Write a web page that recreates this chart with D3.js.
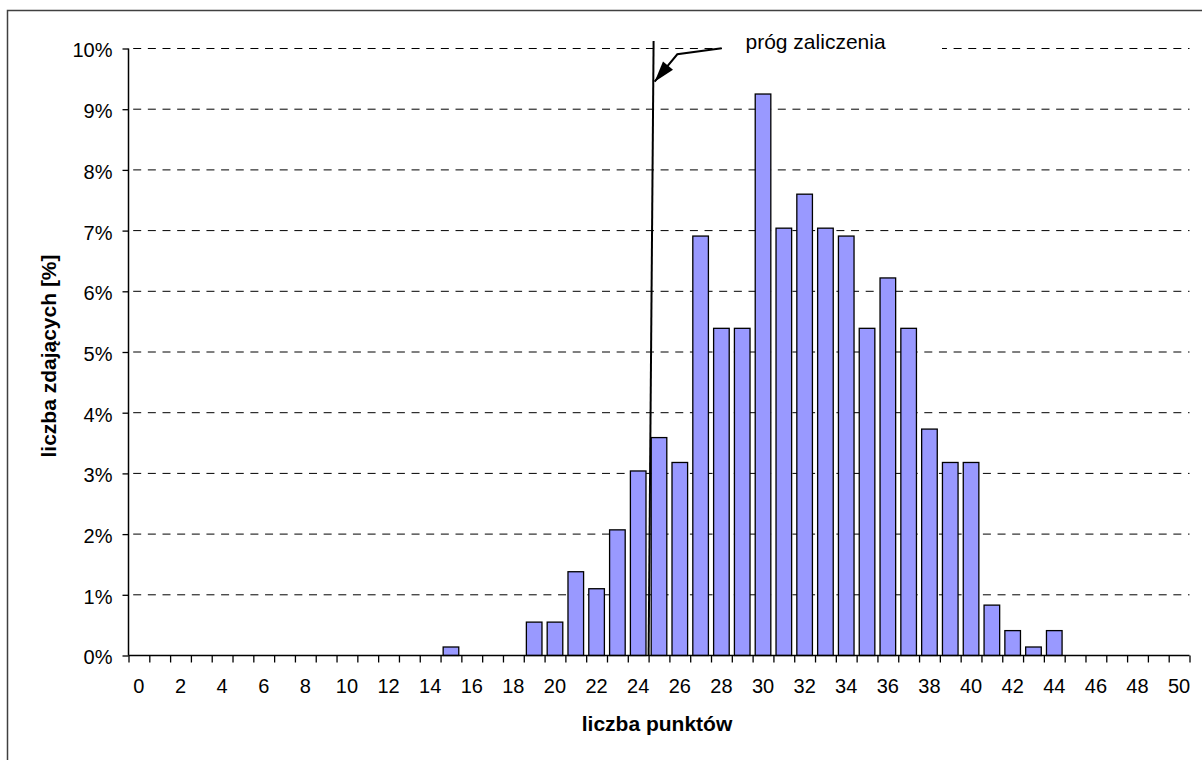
<!DOCTYPE html>
<html>
<head>
<meta charset="utf-8">
<script src="https://cdn.jsdelivr.net/npm/d3@7"></script>
<style>
  html, body { margin: 0; padding: 0; background: #fff; }
  svg { display: block; }
  text { font-family: "Liberation Sans", Arial, sans-serif; fill: #000; }
</style>
</head>
<body>
<svg id="chart" width="1202" height="760"></svg>
<script>
// ---- data ----
const categories = [0,1,2,3,4,5,6,7,8,9,10,11,12,13,14,15,16,17,18,19,20,21,22,23,24,25,
  26,27,28,29,30,31,32,33,34,35,36,37,38,39,40,41,42,43,44,45,46,47,48,49,50];
const percentValues = [0,0,0,0,0,0,0,0,0,0,0,0,0,0,0,0.14,0,0,0,0.55,0.55,1.38,1.10,2.07,3.04,3.59,
  3.18,6.91,5.39,5.39,9.25,7.04,7.60,7.04,6.91,5.39,6.22,5.39,3.73,3.18,3.18,0.83,0.41,0.14,0.41,0,0,0,0,0,0];
const yTickValues = [0,1,2,3,4,5,6,7,8,9,10];
const xTickLabels = [0,2,4,6,8,10,12,14,16,18,20,22,24,26,28,30,32,34,36,38,40,42,44,46,48,50];
const thresholdCategory = 25;
const thresholdLabel = "próg zaliczenia";
const xTitle = "liczba punktów";
const yTitle = "liczba zdających [%]";

// ---- layout ----
const svg = d3.select("#chart");
const plotLeft = 128.5, plotRight = 1189.5, plotTop = 48.5, plotBottom = 655.5;

const x = d3.scaleBand().domain(categories).range([plotLeft, plotRight]).paddingInner(0.25).paddingOuter(0.125);
const xb = d3.scaleLinear().domain([0, categories.length]).range([plotLeft, plotRight]);
const y = d3.scaleLinear().domain([0, 10]).range([plotBottom, plotTop]);

// outer frame
svg.append("rect").attr("x", 7.5).attr("y", 10.5).attr("width", 1400).attr("height", 1000)
  .attr("fill", "none").attr("stroke", "#404040").attr("stroke-width", 1.5);

// gridlines
const period = 14.65;
svg.append("g").selectAll("line").data(yTickValues.filter(d => d > 0)).join("line")
  .attr("x1", plotLeft).attr("x2", plotRight)
  .attr("y1", d => y(d)).attr("y2", d => y(d))
  .attr("stroke", "#000").attr("stroke-width", 1)
  .attr("stroke-dasharray", "8," + (period - 8))
  .attr("stroke-dashoffset", period - 4.7);

// bars
svg.append("g").selectAll("rect").data(categories.map((c, i) => ({c, v: percentValues[i]})).filter(d => d.v > 0))
  .join("rect")
  .attr("x", d => x(d.c)).attr("width", x.bandwidth())
  .attr("y", d => y(d.v)).attr("height", d => y(0) - y(d.v))
  .attr("fill", "#9999FF").attr("stroke", "#000").attr("stroke-width", 1.3);

// y axis
const yAxis = svg.append("g").attr("transform", `translate(${plotLeft},0)`)
  .call(d3.axisLeft(y).tickValues(yTickValues).tickFormat(d => d + "%").tickSize(6).tickPadding(10));
yAxis.select(".domain").attr("stroke", "#000").attr("stroke-width", 1.5).attr("d", `M0,${plotTop}V${plotBottom}`);
yAxis.selectAll(".tick line").attr("stroke-width", 1.3);
yAxis.selectAll("text").attr("font-size", 20).attr("dy", "0.42em")
  .style("font-family", '"Liberation Sans", Arial, sans-serif');

// x axis: boundary ticks
const xAxisTicks = svg.append("g").attr("transform", `translate(0,${plotBottom})`)
  .call(d3.axisBottom(xb).tickValues(d3.range(0, categories.length + 1)).tickFormat("").tickSize(7));
xAxisTicks.select(".domain").attr("stroke", "#000").attr("stroke-width", 1.5).attr("d", `M${plotLeft},0H${plotRight}`);
xAxisTicks.selectAll(".tick line").attr("stroke-width", 1.3);

// x axis: labels
const xAxisLabels = svg.append("g").attr("transform", `translate(0,${plotBottom})`)
  .call(d3.axisBottom(x).tickValues(xTickLabels).tickSize(0).tickPadding(23));
xAxisLabels.select(".domain").remove();
xAxisLabels.selectAll("text").attr("font-size", 20)
  .style("font-family", '"Liberation Sans", Arial, sans-serif');

// axis titles
svg.append("text").attr("x", 657).attr("y", 730.5).attr("text-anchor", "middle")
  .attr("font-size", 21).attr("font-weight", "bold").text(xTitle);
svg.append("text").attr("transform", "translate(56,356) rotate(-90)").attr("text-anchor", "middle")
  .attr("font-size", 21).attr("font-weight", "bold").text(yTitle);

// threshold line
const tx = x(thresholdCategory) - (x.step() - x.bandwidth()) / 2;
svg.append("line").attr("x1", tx + 5).attr("y1", y(10) - 7.5).attr("x2", tx).attr("y2", plotBottom)
  .attr("stroke", "#000").attr("stroke-width", 2);

// annotation label with white background
svg.append("rect").attr("x", 722).attr("y", 26).attr("width", 220).attr("height", 34).attr("fill", "#fff");
svg.append("text").attr("x", 745.5).attr("y", 48.5).attr("font-size", 21).text(thresholdLabel);

// arrow
const tip = [tx + 6, 81.7];
const bend = [677.3, 54.3];
svg.append("polyline").attr("points", [[721.7, 48.3], bend, tip].map(p => p.join(",")).join(" "))
  .attr("fill", "none").attr("stroke", "#000").attr("stroke-width", 2);
const ddx = tip[0] - bend[0], ddy = tip[1] - bend[1], len = Math.hypot(ddx, ddy);
const ux = ddx / len, uy = ddy / len, L = 21, W = 6.5;
const bx = tip[0] - ux * L, by = tip[1] - uy * L;
svg.append("polygon")
  .attr("points", [tip, [bx - uy * W, by + ux * W], [bx + uy * W, by - ux * W]].map(p => p.join(",")).join(" "))
  .attr("fill", "#000");
</script>
</body>
</html>
